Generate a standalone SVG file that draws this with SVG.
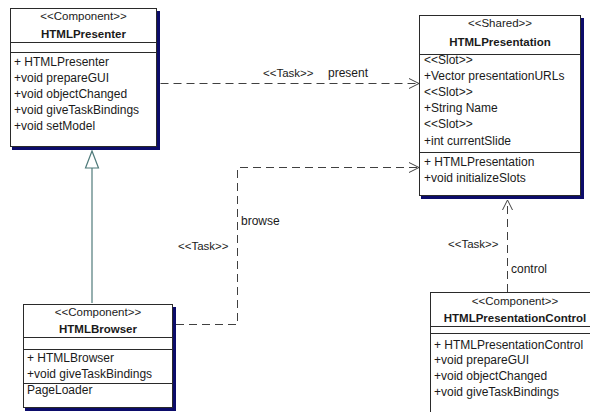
<svg xmlns="http://www.w3.org/2000/svg" width="590" height="412" viewBox="0 0 590 412">
  <style>
    text { font-family: "Liberation Sans", Arial, sans-serif; font-size: 12px; fill: #1a1a1a; }
    .st { text-anchor: middle; font-size: 11.5px; }
    .nm { text-anchor: middle; font-weight: bold; font-size: 11.5px; }
    .box { fill: #ffffff; stroke: #2a2a2a; stroke-width: 1; }
    .sep { stroke: #2a2a2a; stroke-width: 1; }
    .shadow { fill: none; stroke: #0c0c6a; stroke-width: 3; }
    .dep { fill: none; stroke: #404040; stroke-width: 1; stroke-dasharray: 8 5; }
    .head { fill: none; stroke: #404040; stroke-width: 1; }
    .gen { fill: none; stroke: #4f7a7a; stroke-width: 1.2; }
    .lbl { font-size: 11.5px; }
  </style>

  <!-- connectors -->
  <g id="connectors">
    <!-- generalization HTMLBrowser -> HTMLPresenter -->
    <line class="gen" x1="92" y1="303" x2="92" y2="168"/>
    <polygon points="92,151 85.5,168 98.5,168" fill="#ffffff" stroke="#4f7a7a" stroke-width="1.2"/>

    <!-- present -->
    <path class="dep" d="M160.5,83.5 H418"/>
    <path class="head" d="M409,78.5 L419,83.5 L409,88.5"/>
    <text class="lbl" x="263" y="77">&lt;&lt;Task&gt;&gt;</text>
    <text x="328" y="77">present</text>

    <!-- browse -->
    <path class="dep" d="M176,324.5 H237.5 V167.5 H418"/>
    <path class="head" d="M409,162.5 L419,167.5 L409,172.5"/>
    <text x="241" y="225">browse</text>
    <text class="lbl" x="178" y="250">&lt;&lt;Task&gt;&gt;</text>

    <!-- control -->
    <path class="dep" d="M507.5,292 V201"/>
    <path class="head" d="M502.5,210 L507.5,200 L512.5,210"/>
    <text class="lbl" x="448" y="248">&lt;&lt;Task&gt;&gt;</text>
    <text x="511" y="273">control</text>
  </g>

  <!-- HTMLPresenter -->
  <g id="HTMLPresenter">
    <path class="shadow" d="M158.5,11 V148.5 H12"/>
    <rect class="box" x="10.5" y="8.5" width="146" height="138"/>
    <line class="sep" x1="10.5" y1="42.5" x2="156.5" y2="42.5"/>
    <line class="sep" x1="10.5" y1="52.5" x2="156.5" y2="52.5"/>
    <text class="st" x="83.5" y="20">&lt;&lt;Component&gt;&gt;</text>
    <text class="nm" x="83.5" y="38">HTMLPresenter</text>
    <text x="14" y="66">+ HTMLPresenter</text>
    <text x="14" y="82">+void prepareGUI</text>
    <text x="14" y="98">+void objectChanged</text>
    <text x="14" y="114">+void giveTaskBindings</text>
    <text x="14" y="130">+void setModel</text>
  </g>

  <!-- HTMLPresentation -->
  <g id="HTMLPresentation">
    <path class="shadow" d="M582.5,18 V197.5 H421"/>
    <rect class="box" x="419.5" y="15.5" width="161" height="180"/>
    <line class="sep" x1="419.5" y1="54.5" x2="580.5" y2="54.5"/>
    <line class="sep" x1="419.5" y1="152.5" x2="580.5" y2="152.5"/>
    <text class="st" x="500" y="27">&lt;&lt;Shared&gt;&gt;</text>
    <text class="nm" x="500" y="46">HTMLPresentation</text>
    <text x="424" y="64">&lt;&lt;Slot&gt;&gt;</text>
    <text x="424" y="80">+Vector presentationURLs</text>
    <text x="424" y="96">&lt;&lt;Slot&gt;&gt;</text>
    <text x="424" y="112">+String Name</text>
    <text x="424" y="128">&lt;&lt;Slot&gt;&gt;</text>
    <text x="424" y="145">+int currentSlide</text>
    <text x="424" y="166">+ HTMLPresentation</text>
    <text x="424" y="182">+void initializeSlots</text>
  </g>

  <!-- HTMLBrowser -->
  <g id="HTMLBrowser">
    <path class="shadow" d="M174.5,307 V409.5 H25"/>
    <rect class="box" x="23.5" y="304.5" width="149" height="103"/>
    <line class="sep" x1="23.5" y1="337.5" x2="172.5" y2="337.5"/>
    <line class="sep" x1="23.5" y1="349.5" x2="172.5" y2="349.5"/>
    <line class="sep" x1="23.5" y1="383.5" x2="172.5" y2="383.5"/>
    <text class="st" x="98" y="316">&lt;&lt;Component&gt;&gt;</text>
    <text class="nm" x="98" y="333">HTMLBrowser</text>
    <text x="27" y="362">+ HTMLBrowser</text>
    <text x="27" y="378">+void giveTaskBindings</text>
    <text x="27" y="394">PageLoader</text>
  </g>

  <!-- HTMLPresentationControl -->
  <g id="HTMLPresentationControl">
    <rect class="box" x="430.5" y="292.5" width="170" height="130"/>
    <line class="sep" x1="430.5" y1="326.5" x2="600" y2="326.5"/>
    <line class="sep" x1="430.5" y1="333.5" x2="600" y2="333.5"/>
    <text class="st" x="515" y="305">&lt;&lt;Component&gt;&gt;</text>
    <text class="nm" x="515" y="322">HTMLPresentationControl</text>
    <text x="434" y="349">+ HTMLPresentationControl</text>
    <text x="434" y="364">+void prepareGUI</text>
    <text x="434" y="380">+void objectChanged</text>
    <text x="434" y="396">+void giveTaskBindings</text>
  </g>
</svg>
